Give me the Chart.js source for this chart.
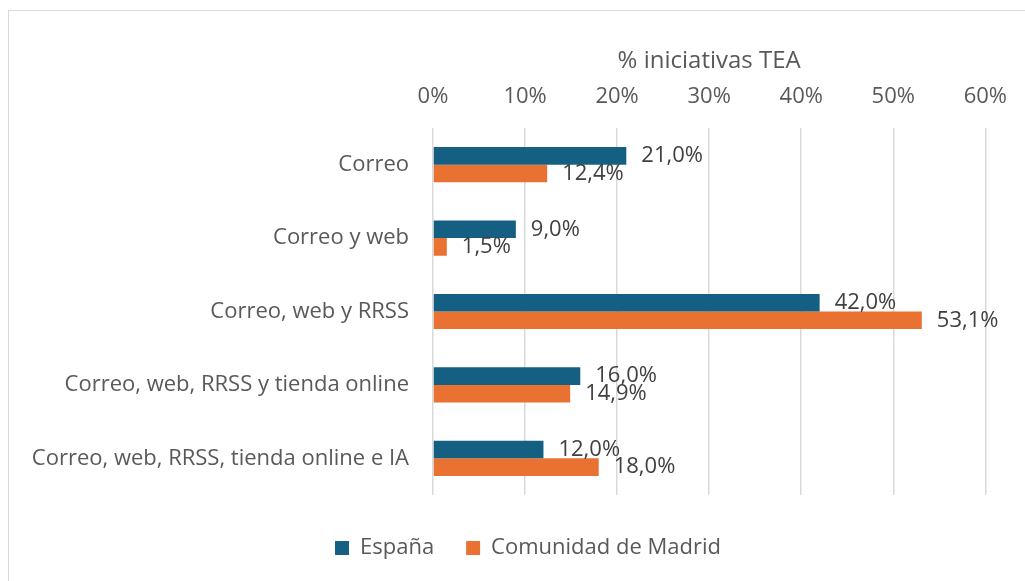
<!DOCTYPE html>
<html lang="es">
<head>
<meta charset="utf-8">
<title>% iniciativas TEA</title>
<script src="https://cdn.jsdelivr.net/npm/chart.js@4.4.1/dist/chart.umd.min.js"></script>
<style>
  html, body { margin: 0; padding: 0; background: #fff; overflow: hidden; }
  #marco {
    position: absolute; left: 8px; top: 10px; right: -40px; bottom: -40px;
    border: 1.5px solid #d9d9d9;
  }
  #contenedor { position: absolute; left: 0; top: 0; width: 1025px; height: 581px; }
</style>
</head>
<body>
<div id="marco"></div>
<div id="contenedor"><canvas id="grafico"></canvas></div>
<script>
const categorias = [
  'Correo',
  'Correo y web',
  'Correo, web y RRSS',
  'Correo, web, RRSS y tienda online',
  'Correo, web, RRSS, tienda online e IA'
];
const espana = [21.0, 9.0, 42.0, 16.0, 12.0];
const madrid = [12.4, 1.5, 53.1, 14.9, 18.0];
const ticksEje = [0, 10, 20, 30, 40, 50, 60];

const fuente = '"Open Sans", "Liberation Sans", sans-serif';
const TAM = 22;

function formatoPct(v) {
  return v.toFixed(1).replace('.', ',') + '%';
}

// Etiquetas de valor a la derecha de cada barra
const etiquetasValores = {
  id: 'etiquetasValores',
  afterDatasetsDraw(chart) {
    const ctx = chart.ctx;
    ctx.save();
    ctx.font = TAM + 'px ' + fuente;
    ctx.fillStyle = '#404040';
    ctx.textAlign = 'left';
    ctx.textBaseline = 'middle';
    chart.data.datasets.forEach((ds, i) => {
      chart.getDatasetMeta(i).data.forEach((barra, j) => {
        ctx.fillText(formatoPct(ds.data[j]), barra.x + 15, barra.y);
      });
    });
    ctx.restore();
  }
};

// La leyenda queda centrada respecto al marco completo, no al lienzo
const centrarLeyenda = {
  id: 'centrarLeyenda',
  afterLayout(chart) {
    const l = chart.legend;
    const dx = 528 - (l.left + l.right) / 2;
    l.left += dx;
    l.right += dx;
  }
};

const PAD_IZQ = 20;
const PAD_SUP = 0;

new Chart(document.getElementById('grafico'), {
  type: 'bar',
  data: {
    labels: categorias,
    datasets: [
      {
        label: 'España',
        data: espana,
        backgroundColor: '#156082',
        categoryPercentage: 0.48,
        barPercentage: 1.0
      },
      {
        label: 'Comunidad de Madrid',
        data: madrid,
        backgroundColor: '#E97132',
        categoryPercentage: 0.48,
        barPercentage: 1.0
      }
    ]
  },
  options: {
    indexAxis: 'y',
    responsive: true,
    maintainAspectRatio: false,
    animation: false,
    events: [],
    layout: {
      padding: { left: PAD_IZQ, right: 38, top: PAD_SUP, bottom: 12 }
    },
    scales: {
      x: {
        position: 'top',
        min: 0,
        max: 60,
        afterBuildTicks: (scale) => {
          scale.ticks = ticksEje.map(v => ({ value: v }));
        },
        afterFit: (scale) => {
          scale.height = 128 - PAD_SUP;
        },
        ticks: {
          padding: 18,
          color: '#595959',
          font: { family: fuente, size: TAM },
          callback: (v) => v + '%'
        },
        grid: {
          color: '#d9d9d9',
          lineWidth: 1.5,
          drawTicks: false
        },
        border: { display: false },
        title: {
          display: true,
          text: '% iniciativas TEA',
          color: '#595959',
          font: { family: fuente, size: 24 },
          padding: { top: 47, bottom: 0 }
        }
      },
      y: {
        afterFit: (scale) => {
          scale.width = 433 - PAD_IZQ;
        },
        ticks: {
          padding: 24,
          color: '#595959',
          font: { family: fuente, size: TAM }
        },
        grid: { display: false, drawTicks: false },
        border: { display: false }
      }
    },
    plugins: {
      legend: {
        position: 'bottom',
        labels: {
          boxWidth: 14,
          boxHeight: 14,
          padding: 32,
          color: '#595959',
          font: { family: fuente, size: TAM }
        },
        title: {
          display: true,
          text: '',
          font: { size: 10, lineHeight: 1.0 },
          padding: 0
        }
      },
      tooltip: { enabled: false }
    }
  },
  plugins: [etiquetasValores, centrarLeyenda]
});
</script>
</body>
</html>
